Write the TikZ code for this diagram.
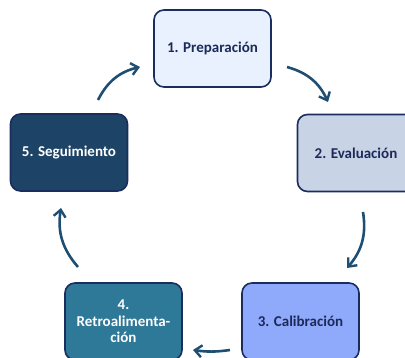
\documentclass[tikz,border=0pt]{standalone}
\usepackage{fontspec}
\setmainfont{Carlito}
\usetikzlibrary{arrows.meta}
\definecolor{bordc}{HTML}{1A2D5E}
\definecolor{arrc}{HTML}{1F4E73}
\definecolor{txtd}{HTML}{1C2A5A}
\definecolor{fa}{HTML}{E8F1FD}
\definecolor{fb}{HTML}{C9D3E6}
\definecolor{fc}{HTML}{8FAAFA}
\definecolor{fd}{HTML}{2E7898}
\definecolor{fe}{HTML}{1D4466}
\tikzset{
  stepbox/.style={draw=bordc, line width=1.6pt, rounded corners=10pt,
    minimum width=117pt, minimum height=77pt, inner sep=2pt,
    font=\bfseries\fontsize{15}{16.5}\selectfont, align=center},
  cyc/.style={draw=arrc, line width=2.6pt, bend left=25,
    -{Straight Barb[length=7pt,width=12pt,line width=2.4pt]}}
}
\begin{document}
\begin{tikzpicture}[x=1pt,y=-1pt]
\useasboundingbox (0,0) rectangle (405,358);
\begin{scope}
\clip (0,0) rectangle (405,358);
\node[stepbox, fill=fa, text=txtd] (b1) at (212.5,48.5) {1. Preparación};
\node[stepbox, fill=fb, text=txtd] (b2) at (356,153) {2. Evaluación};
\node[stepbox, fill=fc, text=txtd] (b3) at (300.5,321.5) {3. Calibración};
\node[stepbox, fill=fd, text=white] (b4) at (123.5,321.5) {4.\\Retroalimenta-\\ción};
\node[stepbox, fill=fe, text=white] (b5) at (69,152.5) {5. Seguimiento};
\end{scope}
\coordinate (s1) at (287,67);  \coordinate (e1) at (328,102);
\coordinate (s2) at (363,212); \coordinate (e2) at (347,268);
\coordinate (s3) at (230,350); \coordinate (e3) at (193,350);
\coordinate (s4) at (78,267);  \coordinate (e4) at (61,208);
\coordinate (s5) at (98,100);  \coordinate (e5) at (140,67);
\draw[cyc] (s1) to (e1);
\draw[cyc] (s2) to (e2);
\draw[cyc, bend left=8] (s3) to (e3);
\draw[cyc] (s4) to (e4);
\draw[cyc] (s5) to (e5);
\end{tikzpicture}
\end{document}
